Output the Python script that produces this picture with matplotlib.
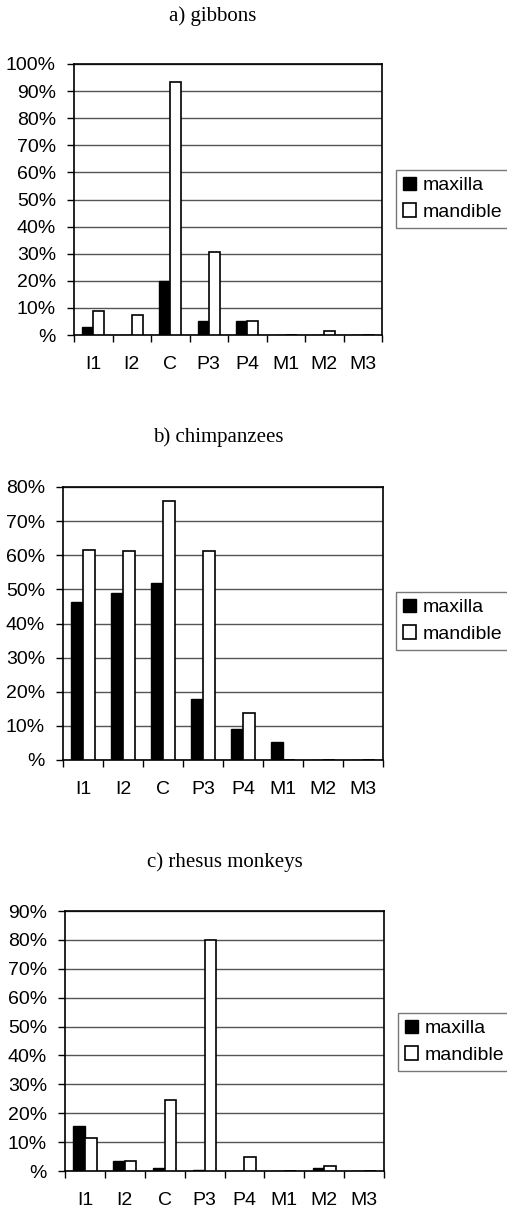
import numpy as np
import matplotlib
matplotlib.use('Agg')
import matplotlib.pyplot as plt
from matplotlib.ticker import FixedLocator

teeth = ['I1', 'I2', 'C', 'P3', 'P4', 'M1', 'M2', 'M3']

# percentages
gib_max = [3.1, 0, 19.8, 5, 5, 0, 0, 0]
gib_man = [9, 7.5, 93.5, 30.6, 5, 0, 1.6, 0]

chimp_max = [46.3, 49, 51.9, 18, 9.1, 5.2, 0, 0]
chimp_man = [61.5, 61.2, 76, 61.2, 13.8, 0, 0, 0]

rhes_max = [15.7, 3.5, 0.9, 0.5, 0, 0, 1.2, 0]
rhes_man = [11.5, 3.5, 24.6, 80, 5, 0, 1.9, 0]

titles = ['a) gibbons', 'b) chimpanzees', 'c) rhesus monkeys']
ymaxes = [100, 80, 90]

W, H = 507, 1207
fig = plt.figure(figsize=(W / 100, H / 100), dpi=100)
plt.rcParams['font.family'] = ['Liberation Sans', 'DejaVu Sans']

# axes boxes in pixels: left, right, top, bottom
boxes = [(74, 382, 64, 335), (63, 383, 487, 760), (65, 384, 911, 1171)]
title_pos = [(213, 16), (218, 437), (225, 862)]
leg_pos = [(396, 170), (396, 592), (398, 1013)]

data = [(gib_max, gib_man), (chimp_max, chimp_man), (rhes_max, rhes_man)]

x = np.arange(len(teeth))
w = 0.29

for i in range(3):
    l, r, t, b = boxes[i]
    ax = fig.add_axes([l / W, 1 - b / H, (r - l) / W, (b - t) / H])
    mx, mn = data[i]
    b1 = ax.bar(x - w / 2, mx, w, color='black', edgecolor='black', linewidth=1, label='maxilla', zorder=3)
    b2 = ax.bar(x + w / 2, mn, w, color='white', edgecolor='black', linewidth=1.2, label='mandible', zorder=3)
    ax.set_xlim(-0.5, 7.5)
    ax.set_ylim(0, ymaxes[i])
    yt = np.arange(0, ymaxes[i] + 1, 10)
    ax.set_yticks(yt)
    ax.set_yticklabels(['%'] + ['%d%%' % v for v in yt[1:]], fontsize=14)
    ax.yaxis.grid(True, color='#555555', linewidth=1, zorder=0)
    ax.tick_params(axis='y', direction='out', length=5, width=1, pad=8)
    ax.set_xticks(x)
    ax.set_xticklabels(teeth, fontsize=14)
    ax.tick_params(axis='x', which='major', length=0, pad=15)
    ax.xaxis.set_minor_locator(FixedLocator(np.arange(-0.5, 8, 1)))
    ax.tick_params(axis='x', which='minor', direction='out', length=5, width=1)
    for s in ax.spines.values():
        s.set_linewidth(1.2)
        s.set_color('black')

    tx, ty = title_pos[i]
    fig.text(tx / W, 1 - ty / H, titles[i], ha='center', va='center', fontsize=15,
             family='Liberation Serif')

    lx, ly = leg_pos[i]
    leg = fig.legend(handles=[b1, b2], loc='upper left', bbox_to_anchor=(lx / W, 1 - ly / H),
                     fontsize=14, frameon=True, fancybox=False, handlelength=0.7, handleheight=0.7,
                     handletextpad=0.3, borderpad=0.35, labelspacing=0.45, borderaxespad=0)
    leg.get_frame().set_edgecolor('#555555')
    leg.get_frame().set_linewidth(1)

fig.savefig('out.png', dpi=100)
